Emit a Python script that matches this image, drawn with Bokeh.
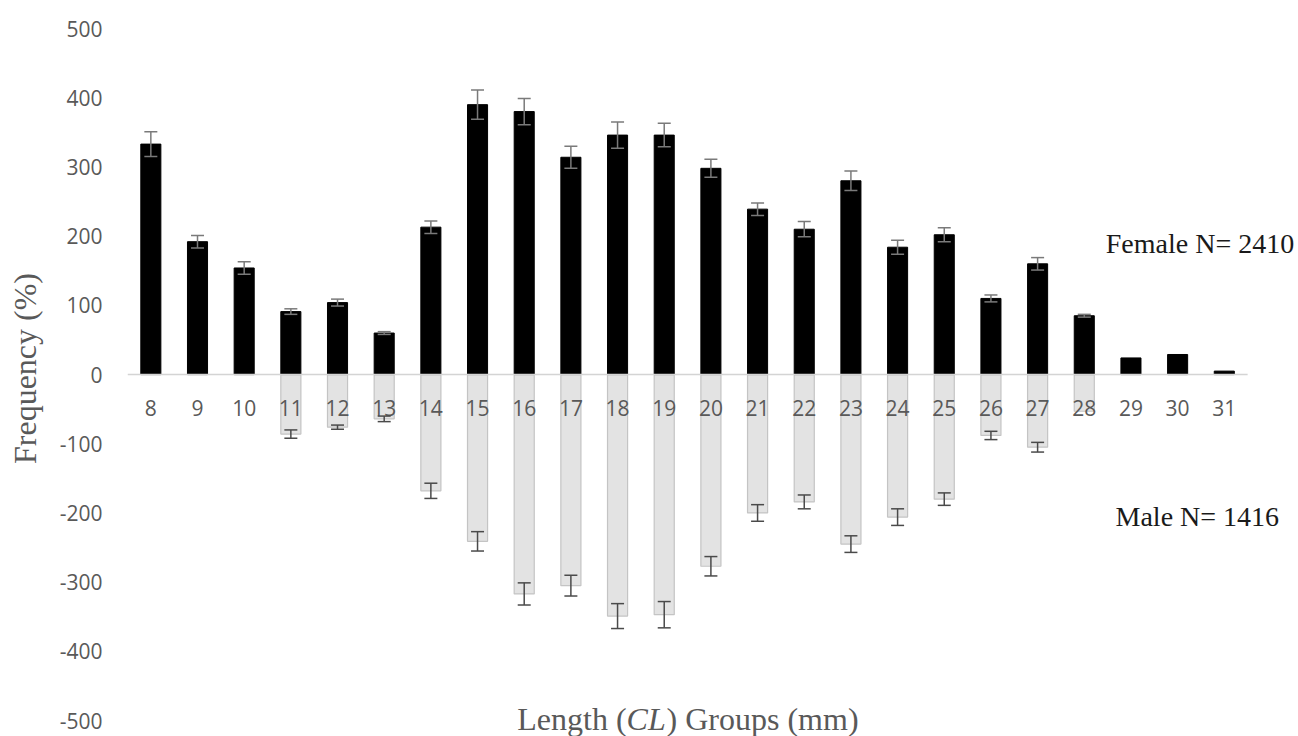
from bokeh.plotting import figure
from bokeh.models import (ColumnDataSource, Range1d, FixedTicker,
                          Label, Whisker, TeeHead)
from bokeh.core.properties import value
from bokeh.embed import file_html
from bokeh.resources import INLINE

# ---- data ----
length_groups = list(range(8, 32))
female = [333, 192, 154, 91, 104, 60, 213, 390, 380, 314, 346, 346, 298,
          239, 210, 280, 184, 202, 110, 160, 85, 24, 29, 5]
female_err = [18, 9, 9, 4, 5, 2, 9, 21, 19, 16, 19, 17, 13, 9, 11, 14, 10,
              10, 5, 9, 2, 0, 0, 0]
male = [0, 0, 0, -86, -76, -64, -168, -241, -317, -305, -349, -347, -277,
        -200, -184, -245, -206, -180, -88, -105, -53, 0, 0, 0]
male_err = [0, 0, 0, 6, 3, 4, 11, 14, 16, 15, 18, 19, 14, 12, 10, 12, 12,
            9, 6, 7, 0, 0, 0, 0]
y_ticks = [-500, -400, -300, -200, -100, 0, 100, 200, 300, 400, 500]
female_note = "Female N= 2410"
male_note = "Male N= 1416"

GRAY = "#595959"
SERIF = "Liberation Serif"
labels = [str(g) for g in length_groups]
x_lo = length_groups[0] - 0.5
x_hi = length_groups[-1] + 0.5

p = figure(width=1298, height=736, x_range=Range1d(x_lo, x_lo + 25.09),
           y_range=Range1d(-523, 540.5), output_backend="svg", toolbar_location=None,
           x_axis_location=None, min_border_left=127, min_border_right=0,
           min_border_top=0, min_border_bottom=0)
p.outline_line_color = None
p.xgrid.visible = False
p.ygrid.visible = False
p.background_fill_color = "white"
p.border_fill_color = "white"

ax = p.yaxis[0]
ax.ticker = FixedTicker(ticks=y_ticks)
ax.major_label_overrides = {t: str(t) for t in y_ticks}
ax.axis_line_color = None
ax.major_tick_line_color = None
ax.minor_tick_line_color = None
ax.major_tick_out = 0
ax.major_label_standoff = 25
ax.major_label_text_font = "Open Sans"
ax.major_label_text_font_size = "21px"
ax.major_label_text_color = GRAY
ax.axis_label = "Frequency (%)"
ax.axis_label_text_font = SERIF
ax.axis_label_text_font_style = "normal"
ax.axis_label_text_font_size = "32px"
ax.axis_label_text_color = GRAY
ax.axis_label_standoff = 14

src = ColumnDataSource(dict(g=length_groups, f=female, m=male))

p.vbar(x="g", top="m", bottom=0, width=0.43, source=src,
       fill_color="#e3e3e3", line_color="#c4c4c4", line_width=1.2)
p.vbar(x="g", top="f", bottom=0, width=0.43, source=src,
       fill_color="black", line_color="black")

# zero line across the category span
p.segment(x0=[x_lo], y0=[0], x1=[x_hi], y1=[0], line_color="#d4d4d4", line_width=1.5)

# error bars (only where an error bar exists)
fidx = [i for i, e in enumerate(female_err) if e > 0]
midx = [i for i, e in enumerate(male_err) if e > 0]
fsrc = ColumnDataSource(dict(g=[length_groups[i] for i in fidx],
                             u=[female[i] + female_err[i] for i in fidx],
                             l=[female[i] - female_err[i] for i in fidx]))
msrc = ColumnDataSource(dict(g=[length_groups[i] for i in midx],
                             u=[male[i] + male_err[i] for i in midx],
                             l=[male[i] - male_err[i] for i in midx]))
for s, col in ((fsrc, "#7a7a7a"), (msrc, "#4a4a4a")):
    w = Whisker(base="g", upper="u", lower="l", source=s, level="annotation",
                line_color=col, line_width=1.5,
                upper_head=TeeHead(size=13, line_color=col, line_width=1.5),
                lower_head=TeeHead(size=13, line_color=col, line_width=1.5))
    p.add_layout(w)

# category labels just below the zero line
p.text(x=length_groups, y=[0] * len(length_groups), text=labels,
       y_offset=33, text_align="center", text_baseline="middle",
       text_font=value("Open Sans"), text_font_size="21px", text_color=GRAY)

# x-axis title with italic CL, centred on the category span
xc = (length_groups[0] + length_groups[-1]) / 2
for txt, align, off, style in [("Length (", "right", -61, "normal"),
                                ("CL", "left", -61, "italic"),
                                (") Groups (mm)", "left", -21, "normal")]:
    p.add_layout(Label(x=xc, y=-500, text=txt, text_align=align, x_offset=off,
                       y_offset=2, text_baseline="middle", text_font=SERIF,
                       text_font_style=style, text_font_size="32px",
                       text_color=GRAY))

p.add_layout(Label(x=28.46, y=190, text=female_note, text_align="left",
                   text_baseline="middle", text_font=SERIF,
                   text_font_size="28px", text_color="#1a1a1a"))
p.add_layout(Label(x=28.67, y=-205, text=male_note, text_align="left",
                   text_baseline="middle", text_font=SERIF,
                   text_font_size="28px", text_color="#1a1a1a"))

open("out.html", "w").write(file_html(p, INLINE))
